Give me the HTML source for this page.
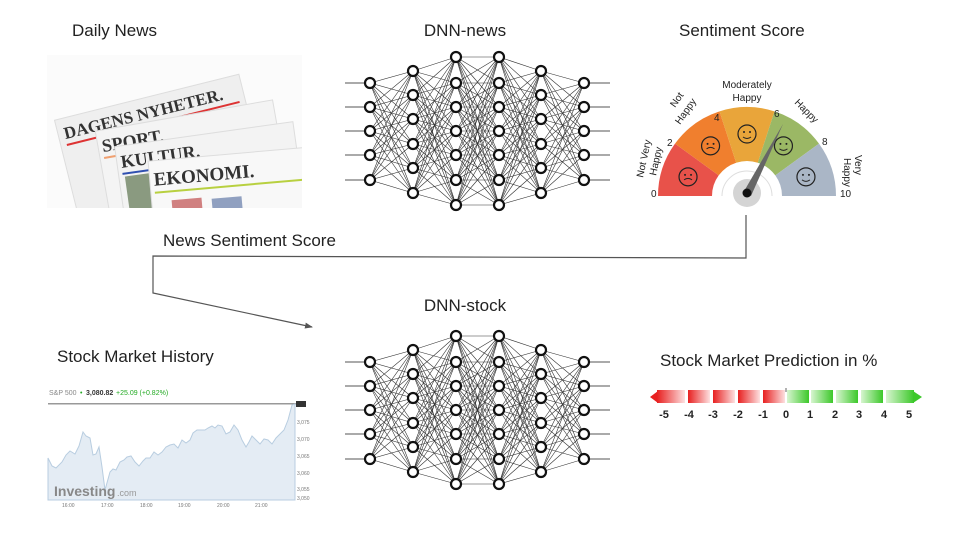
<!DOCTYPE html>
<html><head><meta charset="utf-8"><style>
html,body{margin:0;padding:0;background:#fff;}
body{width:960px;height:540px;overflow:hidden;position:relative;font-family:"Liberation Sans",sans-serif;}
svg{position:absolute;left:0;top:0;}
</style></head><body>
<svg id="s" width="960" height="540" viewBox="0 0 960 540" xmlns="http://www.w3.org/2000/svg">
<defs>
<linearGradient id="rg" x1="0" x2="1"><stop offset="0" stop-color="#e82020"/><stop offset="1" stop-color="#fde0e0"/></linearGradient>
<linearGradient id="gg" x1="0" x2="1"><stop offset="0" stop-color="#d8f5d0"/><stop offset="1" stop-color="#3cc82a"/></linearGradient>
<marker id="ar" markerWidth="8" markerHeight="8" refX="7" refY="4" orient="auto" markerUnits="userSpaceOnUse"><path d="M0,1 L8,4 L0,7 z" fill="#555"/></marker>
<clipPath id="np"><rect x="47" y="55" width="255" height="153"/></clipPath>
</defs>
<g font-family="Liberation Sans, sans-serif" font-size="17" fill="#222">
<text x="72" y="36">Daily News</text>
<text x="465" y="36" text-anchor="middle">DNN-news</text>
<text x="679" y="36">Sentiment Score</text>
<text x="163" y="246">News Sentiment Score</text>
<text x="465" y="311" text-anchor="middle">DNN-stock</text>
<text x="57" y="362">Stock Market History</text>
<text x="660" y="366">Stock Market Prediction in %</text>
</g>
<polyline points="746,215 746,258 153,256 153,293 312,327" fill="none" stroke="#555" stroke-width="1.2" marker-end="url(#ar)"/>

<!-- newspapers -->
<g clip-path="url(#np)">
<rect x="47" y="55" width="255" height="153" fill="#fbfbfb"/>
<g transform="rotate(-14 160 130)"><rect x="60" y="95" width="190" height="120" fill="#efefef" stroke="#ddd"/>
<text x="66" y="116" font-family="Liberation Serif,serif" font-weight="bold" font-size="17" fill="#333">DAGENS NYHETER.</text>
<rect x="66" y="121" width="178" height="2" fill="#d33"/></g>
<g transform="rotate(-10 190 150)"><rect x="100" y="115" width="180" height="100" fill="#f4f4f4" stroke="#ddd"/>
<text x="104" y="137" font-family="Liberation Serif,serif" font-weight="bold" font-size="18" fill="#333">SPORT.</text>
<rect x="104" y="142" width="170" height="2" fill="#f0a070"/></g>
<g transform="rotate(-8 200 165)"><rect x="118" y="135" width="180" height="85" fill="#f3f3f3" stroke="#ddd"/>
<text x="122" y="157" font-family="Liberation Serif,serif" font-weight="bold" font-size="18" fill="#333">KULTUR.</text>
<rect x="122" y="162" width="170" height="2" fill="#3050b0"/>
<rect x="124" y="166" width="26" height="50" fill="#8a9a80"/></g>
<g transform="rotate(-5 220 180)"><rect x="150" y="155" width="160" height="70" fill="#f8f8f8" stroke="#ddd"/>
<text x="154" y="180" font-family="Liberation Serif,serif" font-weight="bold" font-size="19" fill="#333">EKONOMI.</text>
<rect x="154" y="186" width="150" height="2" fill="#b8d040"/>
<rect x="170" y="196" width="30" height="20" fill="#d08080"/><rect x="210" y="198" width="30" height="18" fill="#90a0c0"/></g>
</g>

<g id="nn1"></g><g id="nn2"></g>

<g id="gauge"></g>
<g font-family="Liberation Sans, sans-serif" font-size="10" fill="#222">
<text x="651" y="197">0</text><text x="667" y="146">2</text><text x="714" y="121">4</text>
<text x="774" y="117">6</text><text x="822" y="145">8</text><text x="840" y="197">10</text>
<text x="747" y="88" text-anchor="middle">Moderately</text><text x="747" y="101" text-anchor="middle">Happy</text>
<text transform="translate(675,108) rotate(-55)">Not</text>
<text transform="translate(680,125) rotate(-55)">Happy</text>
<text transform="translate(643,178) rotate(-78)">Not Very</text>
<text transform="translate(656,176) rotate(-78)">Happy</text>
<text transform="translate(794,103) rotate(45)">Happy</text>
<text transform="translate(855,155) rotate(90)">Very</text>
<text transform="translate(844,158) rotate(90)">Happy</text>
</g>

<g font-family="Liberation Sans, sans-serif">
<text x="49" y="395" font-size="7" fill="#888">S&amp;P 500</text>
<text x="80" y="395" font-size="7" fill="#2a2" >•</text>
<text x="86" y="395" font-size="7" fill="#333" font-weight="bold">3,080.82</text>
<text x="116" y="395" font-size="7" fill="#2a2">+25.09  (+0.82%)</text>
<rect x="48" y="403" width="250" height="1.5" fill="#999"/>
<path id="ch" fill="#e4ecf4" stroke="#b8cde0" stroke-width="1"/>
<text x="54" y="496" font-size="14" font-weight="bold" fill="#888">Investing</text>
<text x="117" y="496" font-size="9" fill="#999">.com</text>
<g font-size="5" fill="#777"><text x="62" y="507">16:00</text><text x="101" y="507">17:00</text><text x="140" y="507">18:00</text><text x="178" y="507">19:00</text><text x="217" y="507">20:00</text><text x="255" y="507">21:00</text>
<text x="297" y="424">3,075</text><text x="297" y="441">3,070</text><text x="297" y="458">3,065</text><text x="297" y="475">3,060</text><text x="297" y="491">3,055</text><text x="297" y="500">3,050</text></g>
<rect x="296" y="401" width="10" height="6" fill="#333"/>
</g>

<g id="pb"></g>
<g font-family="Liberation Sans, sans-serif" font-size="11" font-weight="bold" fill="#222" text-anchor="middle">
<text x="664" y="418">-5</text><text x="689" y="418">-4</text><text x="713" y="418">-3</text><text x="738" y="418">-2</text><text x="763" y="418">-1</text><text x="786" y="418">0</text><text x="810" y="418">1</text><text x="835" y="418">2</text><text x="859" y="418">3</text><text x="884" y="418">4</text><text x="909" y="418">5</text>
</g>
</svg>
<script>
var NS="http://www.w3.org/2000/svg";
function el(p,t,a){var e=document.createElementNS(NS,t);for(var k in a)e.setAttribute(k,a[k]);p.appendChild(e);return e;}
function nn(g,off){
 var xs=[370,413,456,499,541,584];
 var l5=[83,107,131,155,180],l6=[71,95,119,144,168,193],l7=[57,83,107,131,155,180,205];
 var L=[l5,l6,l7,l7,l6,l5];
 for(var i=0;i<5;i++)for(var a=0;a<L[i].length;a++)for(var b=0;b<L[i+1].length;b++)
  el(g,"line",{x1:xs[i],y1:L[i][a]+off,x2:xs[i+1],y2:L[i+1][b]+off,stroke:"#333","stroke-width":0.6});
 l5.forEach(function(y){el(g,"line",{x1:345,y1:y+off,x2:370,y2:y+off,stroke:"#555","stroke-width":1});el(g,"line",{x1:584,y1:y+off,x2:610,y2:y+off,stroke:"#555","stroke-width":1});});
 for(var i=0;i<6;i++)L[i].forEach(function(y){el(g,"circle",{cx:xs[i],cy:y+off,r:5,fill:"#fff",stroke:"#111","stroke-width":2.2});});
}
nn(document.getElementById("nn1"),0);nn(document.getElementById("nn2"),279);
var g=document.getElementById("gauge"),cx=747,cy=196,R=89,r=35;
var cols=["#e8524a","#f07f2e","#e9a53a","#9bb865","#aab6c6"];
function pt(rad,ang){return [cx+rad*Math.cos(ang),cy-rad*Math.sin(ang)];}
for(var i=0;i<5;i++){var a1=Math.PI*(1-i/5),a2=Math.PI*(1-(i+1)/5);
 var p1=pt(R,a1),p2=pt(R,a2),p3=pt(r,a2),p4=pt(r,a1);
 el(g,"path",{d:"M"+p1+" A"+R+","+R+" 0 0 1 "+p2+" L"+p3+" A"+r+","+r+" 0 0 0 "+p4+" Z",fill:cols[i]});
 var c=pt(62,(a1+a2)/2);
 el(g,"circle",{cx:c[0],cy:c[1],r:9,fill:"none",stroke:"#222","stroke-width":1.2});
 el(g,"circle",{cx:c[0]-3,cy:c[1]-2,r:1,fill:"#222"});el(g,"circle",{cx:c[0]+3,cy:c[1]-2,r:1,fill:"#222"});
 el(g,"path",{d:"M"+(c[0]-4)+","+(c[1]+3)+" q4,"+(i<2?-3:3)+" 8,0",fill:"none",stroke:"#222","stroke-width":1});
}
el(g,"rect",{x:cx-r,y:cy,width:2*r,height:6,fill:"#fff"});
el(g,"path",{d:"M"+(cx-25)+","+cy+" A25,25 0 0 1 "+(cx+25)+","+cy,fill:"none",stroke:"#ddd","stroke-width":1});
el(g,"circle",{cx:cx,cy:cy-3,r:14,fill:"#d4d4d4"});
el(g,"polygon",{points:(cx-4)+","+(cy-3)+" "+(cx+4)+","+(cy)+" 783,124",fill:"#666"});
el(g,"circle",{cx:cx,cy:cy-3,r:4.5,fill:"#111"});
var xs=[48,52,56,62,66,70,75,79,83,86,90,93,96,99,102,105,110,113,116,120,124,127,131,135,139,143,146,150,154,158,162,166,170,174,178,182,186,190,193,197,201,205,208,212,215,218,222,226,230,234,238,242,246,249,252,256,260,264,268,272,276,280,284,288,292,295];
var ys=[458,466,468,462,455,451,454,446,432,436,438,455,454,447,467,490,472,469,470,462,460,457,456,462,466,461,458,458,452,455,452,447,445,444,448,440,443,440,433,430,430,430,428,426,428,425,426,434,432,425,430,440,447,442,436,440,444,439,440,444,438,434,430,420,405,404];
var d="M48,500 ";for(var i=0;i<xs.length;i++)d+="L"+xs[i]+","+ys[i]+" ";d+="L295,500 Z";
document.getElementById("ch").setAttribute("d",d);
var p=document.getElementById("pb"),y=390,h=13;
el(p,"polygon",{points:"650,397 658,391 658,403",fill:"#e82020"});
el(p,"rect",{x:657,y:y,width:28,height:h,fill:"url(#rg)"});
[688,713,738,763].forEach(function(x){el(p,"rect",{x:x,y:y,width:22,height:h,fill:"url(#rg)"});});
[787,811,836,861,886].forEach(function(x,i){el(p,"rect",{x:x,y:y,width:i==4?28:22,height:h,fill:"url(#gg)"});});
el(p,"polygon",{points:"922,397 913,391 913,403",fill:"#3cc82a"});
el(p,"line",{x1:786,y1:388,x2:786,y2:392,stroke:"#666","stroke-width":1});
</script>
</body></html>
